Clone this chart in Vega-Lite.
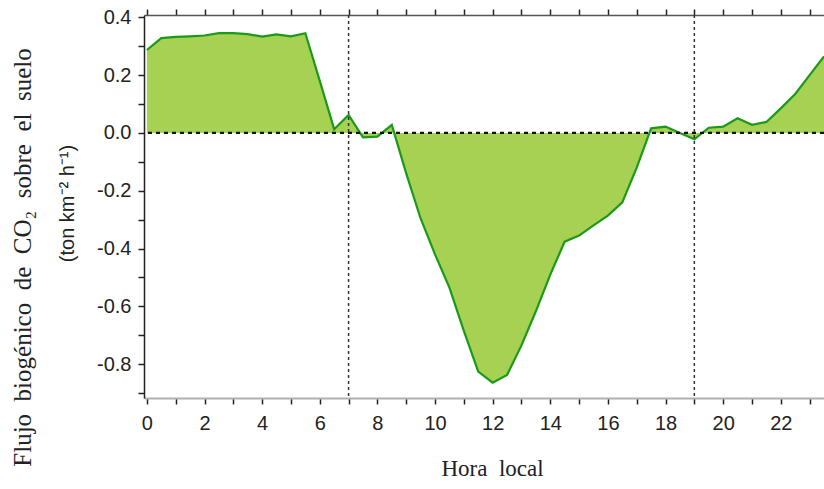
{
  "$schema": "https://vega.github.io/schema/vega-lite/v6.json",
  "width": 680,
  "height": 383,
  "autosize": {"type": "none"},
  "padding": {"left": 144, "top": 15, "right": 0, "bottom": 91},
  "background": "white",
  "config": {"view": {"stroke": null}, "axis": {"grid": false}},
  "datasets": {
    "flux": [
      {"hora": 0.0, "flujo": 0.287},
      {"hora": 0.5, "flujo": 0.328},
      {"hora": 1.0, "flujo": 0.332},
      {"hora": 1.5, "flujo": 0.334},
      {"hora": 2.0, "flujo": 0.337},
      {"hora": 2.5, "flujo": 0.345},
      {"hora": 3.0, "flujo": 0.345},
      {"hora": 3.5, "flujo": 0.342},
      {"hora": 4.0, "flujo": 0.333},
      {"hora": 4.5, "flujo": 0.341},
      {"hora": 5.0, "flujo": 0.334},
      {"hora": 5.5, "flujo": 0.345},
      {"hora": 6.0, "flujo": 0.18},
      {"hora": 6.5, "flujo": 0.013},
      {"hora": 7.0, "flujo": 0.062},
      {"hora": 7.5, "flujo": -0.015},
      {"hora": 8.0, "flujo": -0.013},
      {"hora": 8.5, "flujo": 0.028},
      {"hora": 9.0, "flujo": -0.14},
      {"hora": 9.5, "flujo": -0.296},
      {"hora": 10.0, "flujo": -0.42},
      {"hora": 10.5, "flujo": -0.535},
      {"hora": 11.0, "flujo": -0.685},
      {"hora": 11.5, "flujo": -0.826},
      {"hora": 12.0, "flujo": -0.864},
      {"hora": 12.5, "flujo": -0.837},
      {"hora": 13.0, "flujo": -0.735},
      {"hora": 13.5, "flujo": -0.617},
      {"hora": 14.0, "flujo": -0.49},
      {"hora": 14.5, "flujo": -0.376},
      {"hora": 15.0, "flujo": -0.355},
      {"hora": 15.5, "flujo": -0.32},
      {"hora": 16.0, "flujo": -0.286},
      {"hora": 16.5, "flujo": -0.24},
      {"hora": 17.0, "flujo": -0.12},
      {"hora": 17.5, "flujo": 0.016},
      {"hora": 18.0, "flujo": 0.022},
      {"hora": 18.5, "flujo": 0.0},
      {"hora": 19.0, "flujo": -0.022},
      {"hora": 19.5, "flujo": 0.018},
      {"hora": 20.0, "flujo": 0.022},
      {"hora": 20.5, "flujo": 0.051},
      {"hora": 21.0, "flujo": 0.028},
      {"hora": 21.5, "flujo": 0.038},
      {"hora": 22.0, "flujo": 0.085},
      {"hora": 22.5, "flujo": 0.135},
      {"hora": 23.0, "flujo": 0.2},
      {"hora": 23.5, "flujo": 0.265}
    ],
    "sun": [{"h": 7}, {"h": 19}],
    "zero": [{"v": 0}]
  },
  "layer": [
    {
      "data": {"name": "flux"},
      "mark": {"type": "area", "color": "#a6d152", "opacity": 1, "line": {"color": "#1a991a", "strokeWidth": 2.2}},
      "encoding": {
        "x": {
          "field": "hora", "type": "quantitative",
          "scale": {"domain": [-0.1, 23.5], "nice": false, "zero": false},
          "axis": {
            "values": [0,1,2,3,4,5,6,7,8,9,10,11,12,13,14,15,16,17,18,19,20,21,22,23],
            "labelExpr": "datum.value % 2 == 0 ? datum.label : ''",
            "title": "Hora \u00a0local",
            "titleFont": "Liberation Serif", "titleFontSize": 23, "titleFontWeight": "normal", "titleColor": "#222",
            "titleX": 348, "titleY": 70, "titleBaseline": "middle", "titleAlign": "center",
            "labelFont": "Liberation Sans", "labelFontSize": 20, "labelColor": "#222", "labelPadding": 9,
            "labelFlush": false, "labelOverlap": false,
            "tickSize": 6, "tickColor": "#222", "tickWidth": 1.5,
            "domainColor": "#b0b0b0", "domainWidth": 2
          }
        },
        "y": {
          "field": "flujo", "type": "quantitative",
          "scale": {"domain": [-0.917, 0.408], "nice": false},
          "axis": {
            "values": [-0.9,-0.8,-0.7,-0.6,-0.5,-0.4,-0.3,-0.2,-0.1,0,0.1,0.2,0.3,0.4],
            "labelExpr": "abs(round(datum.value*10)) % 2 == 0 ? (datum.value < -0.001 ? '-' : '') + format(abs(datum.value), '.1f') : ''",
            "title": "(ton km⁻² h⁻¹)",
            "titleFont": "Liberation Sans", "titleFontSize": 20, "titleFontWeight": "normal", "titleColor": "#222",
            "titleX": -77, "titleY": 188, "titleAngle": -90, "titleBaseline": "middle", "titleAlign": "center",
            "labelFont": "Liberation Sans", "labelFontSize": 20, "labelColor": "#222", "labelPadding": 7,
            "labelOverlap": false,
            "tickSize": 6, "tickColor": "#222", "tickWidth": 1.5,
            "domainColor": "#222", "domainWidth": 1.5
          }
        }
      }
    },
    {
      "data": {"name": "zero"},
      "mark": {"type": "rule", "color": "#111", "strokeWidth": 2.2, "strokeDash": [4, 4]},
      "encoding": {
        "y": {
          "field": "v", "type": "quantitative",
          "axis": {
            "orient": "left",
            "labels": false, "ticks": false, "domain": false,
            "title": "Flujo \u00a0biogénico \u00a0de \u00a0CO₂ \u00a0sobre \u00a0el \u00a0suelo",
            "titleFont": "Liberation Serif", "titleFontSize": 25, "titleFontWeight": "normal", "titleColor": "#222",
            "titleX": -122, "titleY": 242, "titleAngle": -90, "titleBaseline": "middle", "titleAlign": "center"
          }
        }
      }
    },
    {
      "data": {"name": "sun"},
      "mark": {"type": "rule", "color": "#333", "strokeWidth": 1.5, "strokeDash": [3, 3]},
      "encoding": {
        "x": {
          "field": "h", "type": "quantitative",
          "axis": {
            "orient": "top",
            "values": [0,1,2,3,4,5,6,7,8,9,10,11,12,13,14,15,16,17,18,19,20,21,22,23],
            "labels": false, "title": null,
            "tickSize": 6, "tickColor": "#222", "tickWidth": 1.5,
            "domainColor": "#555", "domainWidth": 1.5
          }
        }
      }
    }
  ],
  "resolve": {"axis": {"x": "independent", "y": "independent"}}
}
